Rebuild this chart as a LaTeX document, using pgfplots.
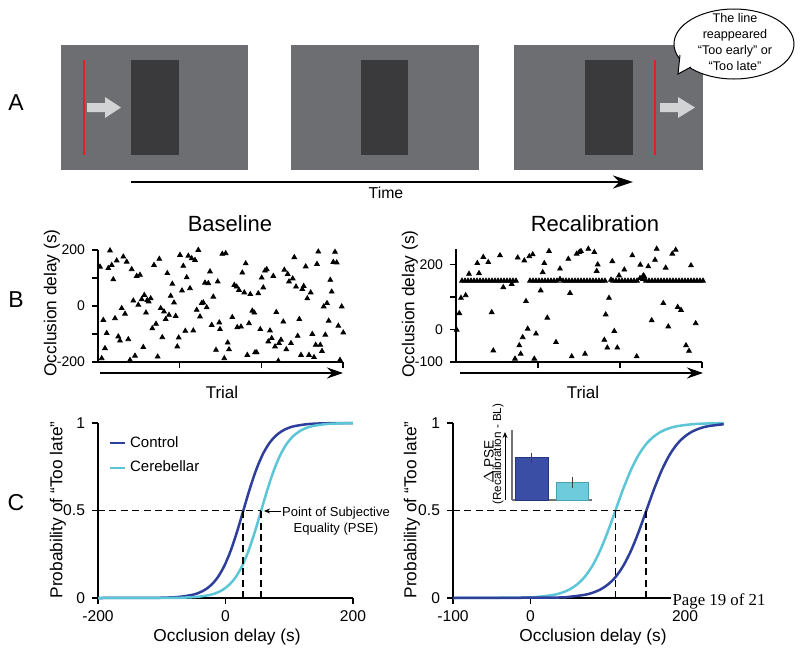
\documentclass[border=0pt]{standalone}
\usepackage{pgfplots}
\pgfplotsset{compat=1.18}
\usepackage{fontspec}
\setmainfont{Liberation Sans}
\newfontfamily\seriffont{Liberation Serif}
\usetikzlibrary{arrows.meta}
\definecolor{ctrl}{HTML}{2E3E9B}
\definecolor{cereb}{HTML}{5CC6D6}
\definecolor{framegray}{HTML}{6D6E71}
\definecolor{occl}{HTML}{3A3A3C}
\definecolor{redl}{HTML}{E31E26}
\definecolor{warrow}{HTML}{D2D3D5}
\definecolor{barc}{HTML}{3A4EA6}
\definecolor{barcd}{HTML}{26357F}
\definecolor{barcy}{HTML}{6ECBDB}
\definecolor{barcyd}{HTML}{4A9FB0}
\newcommand{\fsz}[1]{\fontsize{#1}{1.2\dimexpr#1\relax}\selectfont}
\pgfplotsset{
  common/.style={scale only axis, axis lines=left, axis line style={-,line width=0.75pt,black},
    tick align=outside, major tick length=3pt, tick style={line width=0.6pt,black},
    clip=false, /pgf/number format/assume math mode=true,
    tick label style={font=\fontsize{7.8pt}{9pt}\selectfont}, anchor=south west},
  scat/.style={only marks, mark=triangle*, mark size=1.35pt, black},
  curve/.style={line width=1.25pt, smooth},
  pse/.style={black, line width=0.9pt, dash pattern=on 3.5pt off 2.2pt, forget plot}
}
\begin{document}
\begin{tikzpicture}[x=0.5pt,y=-0.5pt]
\useasboundingbox (0,0) rectangle (800,654);
% ---------------- Panel A (schematic) ----------------
\fill[framegray] (61,45) rectangle (248,170);
\fill[framegray] (291,45) rectangle (479,170);
\fill[framegray] (514,45) rectangle (703,170);
\fill[occl] (131,60) rectangle (179,155);
\fill[occl] (361,60) rectangle (408,155);
\fill[occl] (585,60) rectangle (633,155);
\draw[redl, line width=0.8pt] (84,60) -- (84,155);
\draw[redl, line width=0.8pt] (655,60) -- (655,155);
\fill[warrow] (87,103) -- (105,103) -- (105,97) -- (121,107.5) -- (105,118) -- (105,112) -- (87,112) -- cycle;
\fill[warrow] (660,103) -- (678,103) -- (678,97) -- (695,107.5) -- (678,118) -- (678,112) -- (660,112) -- cycle;
\draw[line width=1.15pt, -{Stealth[length=10pt,width=6.5pt]}] (131,182) -- (633,182);
\node[font=\fsz{7.9pt}] at (386,193) {Time};
% speech bubble
\draw[fill=white, line width=0.5pt] (734,44) ellipse [x radius=60, y radius=35];
\fill[white] (680,54) -- (678,74) -- (691,67) -- cycle;
\draw[line width=0.5pt] (680,55) -- (678,74) -- (691,67);
\node[align=center, font=\fontsize{6.3pt}{7.85pt}\selectfont] at (735,42) {The line\\reappeared\\“Too early” or\\“Too late”};
% panel letters
\node[font=\fsz{11.5pt}] at (16,103) {A};
\node[font=\fsz{11.5pt}] at (16,300) {B};
\node[font=\fsz{11.5pt}] at (16,503) {C};
% ---------------- coordinates ----------------
\coordinate (b1) at (98,362);
\coordinate (b2) at (456,362);
\coordinate (c1) at (98,598);
\coordinate (c2) at (453,598);
\coordinate (c3) at (512,500);
% ---------------- Panel B: Baseline ----------------
\begin{axis}[common, at={(b1)}, width=122.5pt, height=56pt,
  xmin=0, xmax=245, ymin=-200, ymax=200,
  xtick={81.7,163.3,245}, xticklabels={,,},
  ytick={-200,-100,0,100,200}, yticklabels={{-200},,0,,200},
  tick label style={font=\fontsize{7pt}{8pt}\selectfont}]
\addplot[scat] coordinates {
(2.0,140) (5.3,-50) (8.7,-97) (7.0,-151) (3.7,-187) (12.0,198) (10.3,135) (13.7,146) (15.3,95) (17.0,-44)
(18.7,162) (20.3,-109) (22.0,-124) (23.7,-8) (25.3,176) (27.0,-28) (28.7,158) (30.3,-119) (32.0,-193) (33.7,131)
(35.3,19) (37.0,-178) (38.7,107) (40.3,4) (42.0,111) (43.7,24) (45.3,-147) (46.3,39) (48.0,-24) (49.3,21)
(50.7,16) (52.7,27) (54.3,-80) (56.0,146) (58.0,-64) (59.7,-181) (61.3,168) (62.7,-8) (64.3,-112) (66.0,-20)
(67.7,-47) (69.3,117) (71.0,-32) (72.7,36) (74.3,79) (76.0,12) (77.7,-36) (79.3,-145) (80.7,-113) (82.0,182)
(84.0,55) (85.3,143) (87.3,-89) (88.7,102) (90.3,179) (92.0,63) (93.7,170) (95.3,-88) (97.0,164) (98.7,-14)
(100.3,200) (102.0,-38) (103.7,10) (105.3,12) (107.0,83) (108.7,-5) (110.3,81) (112.0,123) (113.7,-68) (115.3,33)
(118.0,-157) (119.7,87) (121.3,-59) (122.0,-83)
(124.3,186) (127.7,188) (126.3,-187) (129.7,-131) (131.0,-155) (134.3,-40) (136.3,75) (138.7,69) (139.3,-76) (141.0,57)
(143.0,-74) (144.3,119) (146.3,48) (147.7,152) (149.3,-175) (151.0,-62) (152.3,42) (154.3,-17) (156.3,-24) (157.0,-166)
(158.7,-166) (160.3,45) (162.3,-83) (163.7,101) (165.3,66) (167.0,126) (168.7,131) (170.3,-127) (172.0,-88) (173.7,-115)
(175.3,107) (177.0,-145) (178.3,-22) (180.3,-196) (181.0,-133) (183.0,-121) (185.3,-56) (186.3,129) (188.3,-155) (189.7,114)
(191.0,87) (193.0,-133) (194.7,98) (196.3,174) (198.0,69) (199.7,-107) (201.3,-47) (203.0,-175) (204.3,60) (205.7,71)
(207.7,141) (209.3,27) (211.0,-175) (212.7,48) (214.3,-100) (216.0,-183) (217.7,-139) (219.0,150) (220.3,194) (222.3,-139)
(224.0,-161) (225.7,-2) (227.3,-103) (229.0,10) (230.7,-53) (232.3,93) (233.7,51) (235.3,157) (237.0,193) (238.7,155)
(240.3,-71) (242.0,-193) (243.7,-2) (245.3,-95)
};
\end{axis}
% ---------------- Panel B: Recalibration ----------------
\begin{axis}[common, at={(b2)}, width=123pt, height=56.55pt,
  xmin=0, xmax=246, ymin=-100, ymax=248,
  xtick={82,164,246}, xticklabels={,,},
  ytick={-100,0,100,200}, yticklabels={{-100},0,,200},
  tick label style={font=\fontsize{7pt}{8pt}\selectfont}]
\addplot[scat] coordinates {
(0.7,-1) (3.3,50) (5.0,97) (9.7,105) (13.0,171) (21.3,204) (23.0,173) (27.3,223) (32.3,207) (35.7,53)
(37.3,-65) (44.0,228) (47.3,130) (55.7,140) (59.0,-90) (61.7,221) (64.7,-75) (63.3,-49) (66.7,-24) (68.3,212)
(70.0,87) (71.7,2) (73.3,225) (76.7,231) (78.3,-90) (80.0,-13) (84.7,120) (86.7,176) (88.3,204) (91.3,36)
(93.0,241) (100.0,-39) (104.0,187) (112.3,217) (114.0,112) (115.7,-83) (120.7,233) (123.3,238)
(125.0,241) (132.3,248) (138.3,238) (141.7,200) (140.7,180) (153.0,97) (149.7,46) (156.3,210) (158.3,-5) (148.3,-32)
(151.3,-56) (161.3,-56) (129.0,-75) (163.0,166) (168.3,184) (176.3,228) (180.7,-83) (184.3,199) (188.3,163) (192.3,194)
(195.7,28) (199.0,214) (200.7,248) (207.3,81) (209.7,190) (212.3,9) (216.3,233) (219.7,245) (221.7,69) (225.0,60)
(230.0,-49) (233.0,-66) (235.0,197) (239.7,19) (155.0,153) (187.3,166)
(6,150) (9,150) (12,150) (15,150) (18,150) (21,150) (24,150) (27,150) (30,150) (33,150)
(36,150) (39,150) (42,150) (45,150) (48,150) (51,150) (54,150) (57,150) (60,150)
(74,150) (77,150) (80,150) (83,150) (86,150) (89,150) (92,150) (95,150) (98,150) (101,150)
(104,155) (107,150) (110,150) (113,150) (116,150) (119,150) (122,150) (125,150) (128,150) (131,150)
(134,150) (137,150) (140,150) (143,150) (146,150) (149,150)
(157,150) (160,150) (163,150) (166,150) (169,150) (172,150) (175,150) (178,150) (181,150) (184,158)
(187,155) (190,150) (193,150) (196,150) (199,150) (202,150) (205,150) (208,150) (211,150) (214,150)
(217,150) (220,150) (223,150) (226,150) (229,150) (232,150) (235,150) (238,150) (241,150) (244,150) (247,150)
};
\end{axis}
\node[font=\fsz{11pt}] at (230,224) {Baseline};
\node[font=\fsz{11pt}] at (595,224) {Recalibration};
\node[font=\fsz{8.65pt}, rotate=90] at (52,303) {Occlusion delay (s)};
\node[font=\fsz{8.65pt}, rotate=90] at (410,304) {Occlusion delay (s)};
\draw[line width=0.85pt, -{Stealth[length=8pt,width=5.5pt]}] (100,373) -- (343,373);
\draw[line width=0.85pt, -{Stealth[length=8pt,width=5.5pt]}] (460,373) -- (703,373);
\node[font=\fsz{8.5pt}] at (222,392) {Trial};
\node[font=\fsz{8.5pt}] at (583,392) {Trial};
% ---------------- Panel C: left ----------------
\begin{axis}[common, at={(c1)}, width=127.5pt, height=87.5pt,
  xmin=-200, xmax=200, ymin=0, ymax=1,
  xtick={-200,0,200}, ytick={0,0.5,1},
  legend style={at={(0.04,0.95)}, anchor=north west, draw=none, fill=none,
    font=\fontsize{7.5pt}{9pt}\selectfont, inner sep=0pt, row sep=1.5pt},
  legend cell align=left,
  legend image code/.code={\draw[#1, line width=1.25pt] (0pt,0pt) -- (7.5pt,0pt);}]
\addplot[curve, ctrl] coordinates {
(-200,0) (-120,0.0006) (-92,0.0025) (-72,0.0067) (-52,0.0180) (-42,0.0293) (-32,0.0474) (-22,0.0759)
(-12,0.1192) (-2,0.1824) (8,0.2689) (18,0.3775) (28,0.5) (38,0.6225) (48,0.7311) (58,0.8176) (68,0.8808)
(78,0.9241) (88,0.9526) (98,0.9707) (108,0.9820) (128,0.9933) (148,0.9975) (168,0.9991) (200,0.9998)};
\addlegendentry{Control}
\addplot[curve, cereb] coordinates {
(-200,0) (-84,0.0009) (-64,0.0025) (-44,0.0067) (-24,0.0180) (-14,0.0293) (-4,0.0474) (6,0.0759)
(16,0.1192) (26,0.1824) (36,0.2689) (46,0.3775) (56,0.5) (66,0.6225) (76,0.7311) (86,0.8176) (96,0.8808)
(106,0.9241) (116,0.9526) (126,0.9707) (136,0.9820) (156,0.9933) (176,0.9975) (200,0.9993)};
\addlegendentry{Cerebellar}
\addplot[pse] coordinates {(-200,0.5) (56,0.5)};
\addplot[pse] coordinates {(28,0) (28,0.5)};
\addplot[pse] coordinates {(56,0) (56,0.5)};
\end{axis}
\draw[line width=0.5pt, -{Stealth[length=3pt,width=2.5pt]}] (281,511) -- (264,511);
\node[align=center, font=\fontsize{6.5pt}{8pt}\selectfont] at (336,521) {Point of Subjective\\Equality (PSE)};
% ---------------- Panel C: right ----------------
\begin{axis}[common, at={(c2)}, width=135.35pt, height=87.5pt,
  xmin=-100, xmax=250, ymin=0, ymax=1,
  xtick={-100,0,200}, ytick={0,0.5,1}]
\addplot[curve, cereb] coordinates {
(-100,0) (-10,0.0025) (10,0.0067) (30,0.0180) (40,0.0293) (50,0.0474) (60,0.0759) (70,0.1192)
(80,0.1824) (90,0.2689) (100,0.3775) (110,0.5) (120,0.6225) (130,0.7311) (140,0.8176) (150,0.8808)
(160,0.9241) (170,0.9526) (180,0.9707) (190,0.9820) (210,0.9933) (230,0.9975) (250,0.9991)};
\addplot[curve, ctrl] coordinates {
(-100,0) (30,0.0025) (50,0.0067) (70,0.0180) (80,0.0293) (90,0.0474) (100,0.0759) (110,0.1192)
(120,0.1824) (130,0.2689) (140,0.3775) (150,0.5) (160,0.6225) (170,0.7311) (180,0.8176) (190,0.8808)
(200,0.9241) (210,0.9526) (220,0.9707) (230,0.9820) (250,0.9933)};
\addplot[pse] coordinates {(-100,0.5) (150,0.5)};
\addplot[pse] coordinates {(110,0) (110,0.5)};
\addplot[pse] coordinates {(150,0) (150,0.5)};
\end{axis}
% ---------------- Inset bar chart ----------------
\begin{axis}[common, at={(c3)}, width=40pt, height=35pt,
  xmin=0, xmax=80, ymin=0, ymax=203, xtick=\empty, ytick=\empty,
  axis line style={-, line width=0.75pt, black!55}]
\addplot[ybar, bar width=33, bar shift=0pt, fill=barc, draw=barcd, line width=0.5pt,
  error bars/.cd, y dir=both, y explicit, error mark=none,
  error bar style={line width=0.4pt, black!75}]
  coordinates {(19.5,122) +- (0,15)};
\addplot[ybar, bar width=32, bar shift=0pt, fill=barcy, draw=barcyd, line width=0.5pt,
  error bars/.cd, y dir=both, y explicit, error mark=none,
  error bar style={line width=0.4pt, black!75}]
  coordinates {(60,52) +- (0,16)};
\end{axis}
\draw[line width=0.5pt, -{Stealth[length=3pt,width=2.5pt]}] (505,500) -- (505,432);
\node[font=\fsz{6.8pt}, rotate=90] at (489,462) {$\Delta$\,PSE};
\node[font=\fsz{5.85pt}, rotate=90] at (498,454) {(Recalibration - BL)};
% axis labels C
\node[font=\fsz{8.65pt}, rotate=90] at (58,510) {Probability of “Too late”};
\node[font=\fsz{8.65pt}, rotate=90] at (412,510) {Probability of “Too late”};
\node[font=\fsz{8.65pt}] at (227,637) {Occlusion delay (s)};
\node[font=\fsz{8.65pt}] at (593,637) {Occlusion delay (s)};
% page footer overlay
\node[fill=white, inner sep=0.8pt, font=\seriffont\fontsize{8.4pt}{10pt}\selectfont] at (719,601) {Page 19 of 21};
\end{tikzpicture}
\end{document}
